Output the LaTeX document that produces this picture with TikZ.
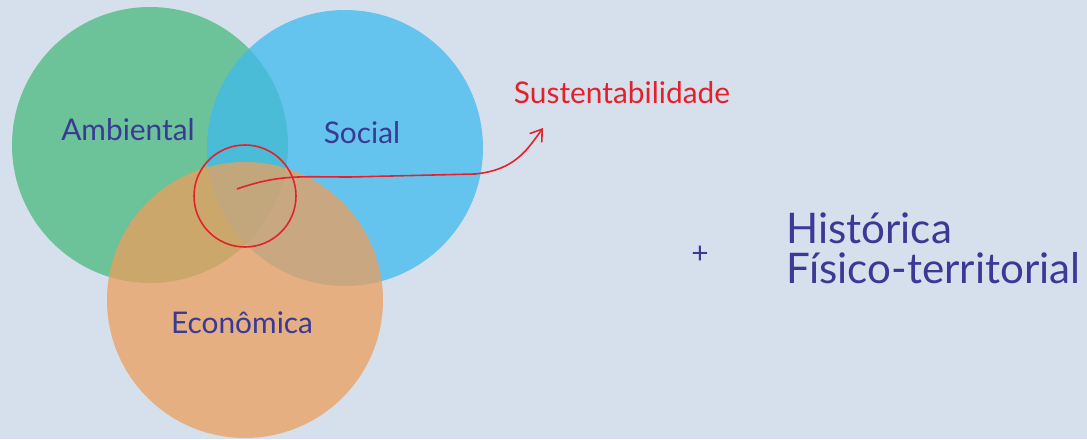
\documentclass[tikz,border=0pt]{standalone}
\usepackage{fontspec}
\setmainfont{Lato}
\usepackage{tikz}
\usetikzlibrary{arrows.meta}

\definecolor{fundo}{RGB}{214,224,237}
\definecolor{verde}{RGB}{73,184,126}
\definecolor{azul}{RGB}{63,187,237}
\definecolor{laranja}{RGB}{235,159,94}
\definecolor{tinta}{RGB}{58,58,150}
\definecolor{vermelho}{RGB}{228,32,42}

\tikzset{
	circulo/.style={fill opacity=0.75, draw=none},
	rotulo/.style={text=tinta, font=\fontsize{17}{20}\selectfont},
	marca/.style={draw=vermelho, line width=0.9pt}
}

\begin{document}
\begin{tikzpicture}[x=0.02cm, y=-0.02cm]
		\fill[fundo] (0, 0) rectangle (1087, 439);
		\useasboundingbox (0, 0) rectangle (1087, 439);
		
		\fill[verde, circulo] (150, 145) circle (138);
		\fill[azul, circulo] (345, 148) circle (138);
		\fill[laranja, circulo] (245, 300) circle (138);
		
		\node[rotulo] (amb) at (128, 130) {Ambiental};
		\node[rotulo] (soc) at (362, 133) {Social};
		\node[rotulo] (eco) at (242, 323) {Econômica};
		
		\draw[marca] (245, 196) circle (51);
		\coordinate (centro) at (237, 189);
		\coordinate (ponta) at (543, 128);
		\node[text=vermelho, font=\fontsize{17}{20}\selectfont] (sus) at (622, 93) {Sustentabilidade};
		\draw[marca, -{Straight Barb[length=2.2mm, width=3mm]}] (centro) .. controls (280, 174) and (300, 177) .. (350, 177)
			-- (475, 174) .. controls (515, 170) and (527, 150) .. (ponta);
		
		\node[text=tinta, font=\fontsize{17}{20}\selectfont] (mais) at (700, 255) {+};
		\node[text=tinta, font=\fontsize{24}{28}\selectfont, anchor=west] (hist) at (780, 228) {Histórica};
		\node[text=tinta, font=\fontsize{24}{28}\selectfont, anchor=west] (fis) at (780, 268) {Físico-territorial};
	\end{tikzpicture}
\end{document}
